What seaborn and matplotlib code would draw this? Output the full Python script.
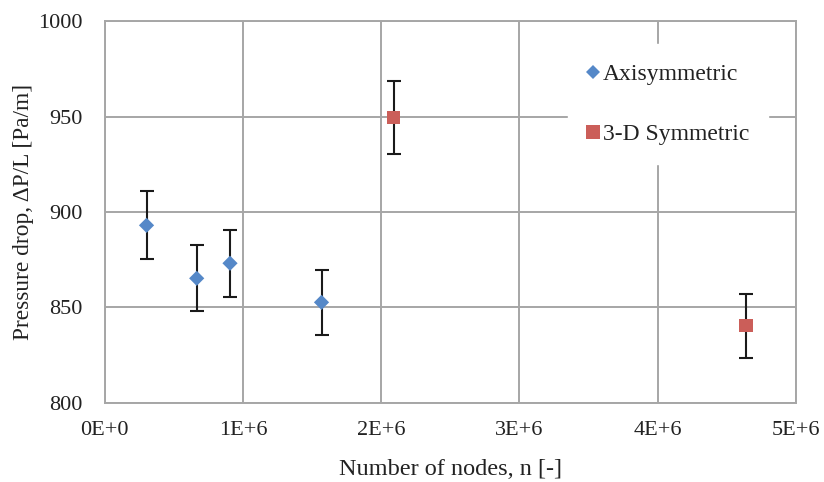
import pandas as pd
import matplotlib.pyplot as plt
from matplotlib.lines import Line2D
import seaborn as sns

# --- data ---
axi_nodes = [0.303e6, 0.666e6, 0.907e6, 1.569e6]
axi_dp = [893.0, 865.2, 873.1, 852.6]
axi_err = [17.9, 17.3, 17.5, 17.1]

sym_nodes = [2.091e6, 4.64e6]
sym_dp = [949.5, 840.3]
sym_err = [19.0, 16.8]

series = ['Axisymmetric', '3-D Symmetric']
colors = {'Axisymmetric': '#5588C8', '3-D Symmetric': '#CB5E59'}
markers = {'Axisymmetric': 'D', '3-D Symmetric': 's'}

df = pd.concat([
    pd.DataFrame({'n': axi_nodes, 'dp': axi_dp, 'err': axi_err, 'Case': series[0]}),
    pd.DataFrame({'n': sym_nodes, 'dp': sym_dp, 'err': sym_err, 'Case': series[1]}),
], ignore_index=True)

sns.set_style('white')
plt.rcParams['font.family'] = ['Liberation Serif', 'DejaVu Serif']

fig = plt.figure(figsize=(8.24, 4.82), dpi=100)
ax = fig.add_axes([0.127, 0.1647, 0.8387, 0.791])

# error bars first, markers on top
ax.errorbar(df['n'], df['dp'], yerr=df['err'], fmt='none', ecolor='#1a1a1a',
            elinewidth=1.5, capsize=5, capthick=1.5, zorder=3)

sns.scatterplot(data=df, x='n', y='dp', hue='Case', style='Case',
                palette=colors, markers=markers, s=80, linewidth=0,
                legend=False, ax=ax, zorder=4)
# bigger squares
ax.collections[-1].set_sizes([60 if c == series[0] else 90 for c in df['Case']])

ax.set_xlim(0, 5e6)
ax.set_ylim(800, 1000)
ax.set_xticks([0, 1e6, 2e6, 3e6, 4e6, 5e6])
ax.set_xticklabels(['0E+0', '1E+6', '2E+6', '3E+6', '4E+6', '5E+6'])
ax.set_yticks([800, 850, 900, 950, 1000])
ax.grid(True, color='#a6a6a6', linewidth=1.4)
ax.set_axisbelow(True)
for s in ax.spines.values():
    s.set_color('#a6a6a6')
    s.set_linewidth(1.4)
ax.tick_params(axis='both', length=0, labelsize=16, colors='#222222')
ax.tick_params(axis='x', pad=13)
ax.tick_params(axis='y', pad=16)

ax.set_xlabel('Number of nodes, n [-]', fontsize=17.5, color='#222222', labelpad=14)
ax.set_ylabel('Pressure drop, \u0394P/L [Pa/m]', fontsize=16.8, color='#222222', labelpad=3)

handles = [Line2D([], [], linestyle='none', marker=markers[c], color=colors[c],
                  markersize=(7 if c == series[0] else 9.5), markeredgewidth=0)
           for c in series]
leg = ax.legend(handles, series, loc='upper left', bbox_to_anchor=(0.6705, 0.9407),
                borderaxespad=0, frameon=True, fancybox=False, framealpha=1,
                edgecolor='white', facecolor='white', fontsize=17,
                labelspacing=1.63, handlelength=0.45, handletextpad=0.2,
                borderpad=0.82)
leg.set_zorder(5)
for t in leg.get_texts():
    t.set_color('#222222')

fig.savefig('out.png', dpi=100)
